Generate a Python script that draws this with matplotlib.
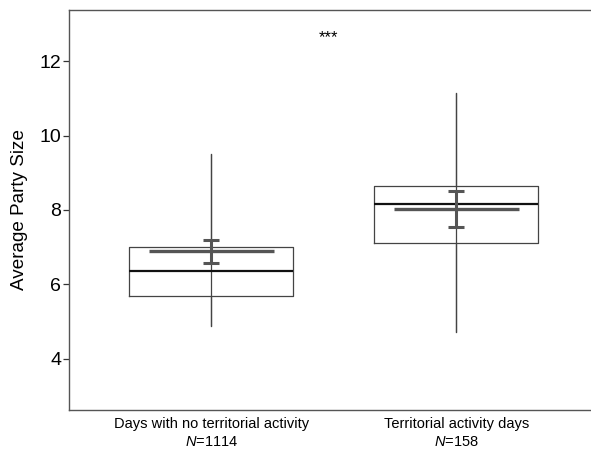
#plot.py
import matplotlib
matplotlib.use("Agg")
import matplotlib.pyplot as plt

plt.rcParams['font.family'] = ['Liberation Sans', 'DejaVu Sans']
plt.rcParams['mathtext.fontset'] = 'custom'
plt.rcParams['mathtext.it'] = 'Liberation Sans:italic'
plt.rcParams['mathtext.rm'] = 'Liberation Sans'

# box summary
groups = ['Days with no territorial activity', 'Territorial activity days']
n_obs = [1114, 158]
q1 = [5.70, 7.11]
med = [6.36, 8.15]
q3 = [7.00, 8.64]
wlo = [4.88, 4.72]
whi = [9.50, 11.14]
# means with error bars
means = [6.90, 8.03]
err_lo = [6.57, 7.55]
err_hi = [7.20, 8.50]
sig_label = '***'
sig_y = 12.62

pos = [1, 2]

fig = plt.figure(figsize=(5.91, 4.49), dpi=100)
ax = fig.add_axes([69/591, 1 - 410/449, 1 - 69/591, 400/449])

stats = []
for i in range(2):
    stats.append(dict(med=med[i], q1=q1[i], q3=q3[i], whislo=wlo[i], whishi=whi[i], fliers=[]))

# whisker line runs through the whole box
ax.vlines(pos, wlo, whi, color='#444444', linewidth=0.9, zorder=1)
ax.bxp(stats, positions=pos, widths=0.67, showcaps=False, showfliers=False,
       boxprops=dict(color='#444444', linewidth=0.9),
       medianprops=dict(color='#111111', linewidth=1.6),
       whiskerprops=dict(color='#444444', linewidth=0.9))

# mean lines
for i in range(2):
    ax.hlines(means[i], pos[i] - 0.255, pos[i] + 0.255, color='#555555', linewidth=2.4, zorder=4)
ax.errorbar(pos, means, yerr=[[means[i] - err_lo[i] for i in range(2)],
                              [err_hi[i] - means[i] for i in range(2)]],
            fmt='none', ecolor='#555555', elinewidth=2.2, capsize=6, capthick=2.2, zorder=5)

ax.text(1.478, sig_y, sig_label, ha='center', va='center', fontsize=12)

ax.set_xlim(0.42, 2.55)
ax.set_ylim(2.63, 13.37)
ax.set_yticks([4, 6, 8, 10, 12])
ax.set_xticks(pos)
ax.set_xticklabels([g + '\n$\\it{N}$=' + str(n) for g, n in zip(groups, n_obs)])
ax.tick_params(axis='y', labelsize=14, colors='#333333', labelcolor='black',
               length=4, width=0.9, pad=1.5)
ax.tick_params(axis='x', labelsize=10.5, length=0, pad=5)
for t in ax.get_xticklabels():
    t.set_linespacing(1.35)
ax.set_ylabel('Average Party Size', fontsize=13.6, labelpad=8.5)

ax.spines['right'].set_visible(False)
for s in ['left', 'top', 'bottom']:
    ax.spines[s].set_color('#555555')
    ax.spines[s].set_linewidth(1.0)

plt.savefig("out.png", dpi=100)
